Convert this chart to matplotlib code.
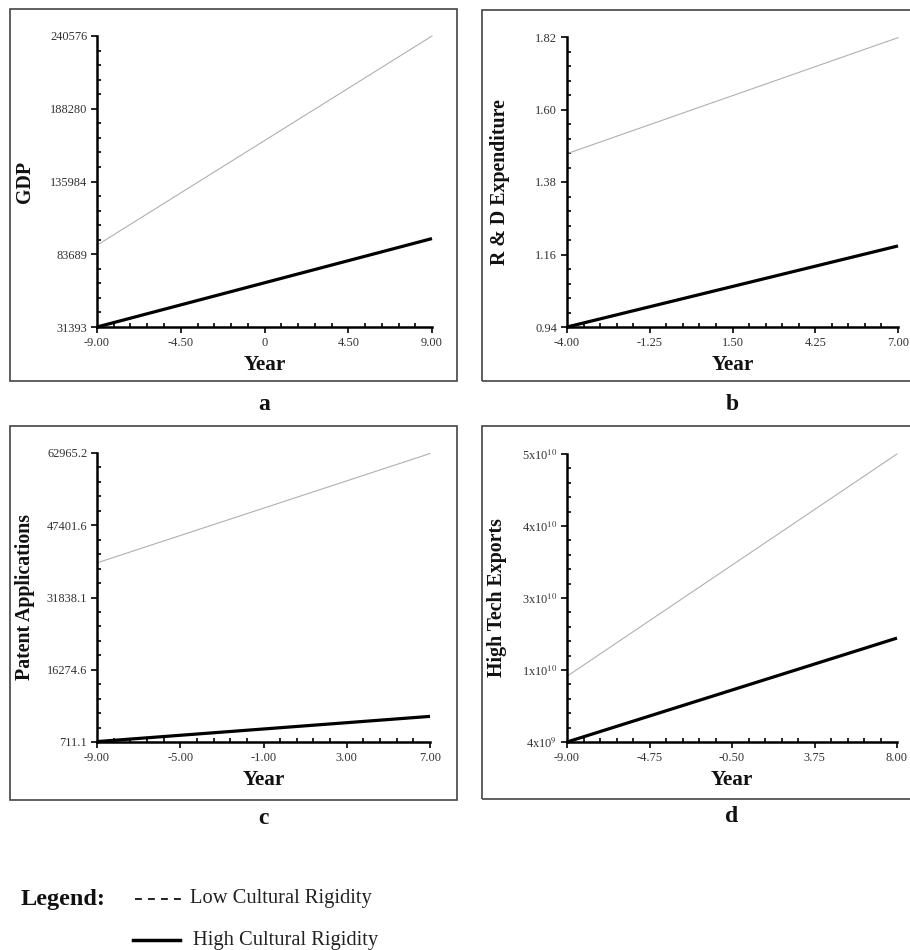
import matplotlib.pyplot as plt
import numpy as np
from matplotlib.lines import Line2D
from matplotlib.patches import Rectangle

plt.rcParams['font.family'] = ['Liberation Serif', 'DejaVu Serif']
plt.rcParams['mathtext.fontset'] = 'stix'

# panel a: GDP
gdp_years = [-9.0, 9.0]
gdp_low = [90200, 240576]
gdp_high = [31393, 94960]
gdp_xticks = ['-9.00', '-4.50', '0', '4.50', '9.00']
gdp_yticks = ['31393', '83689', '135984', '188280', '240576']

# panel b: R & D
rd_years = [-4.0, 7.0]
rd_low = [1.466, 1.818]
rd_high = [0.94, 1.186]
rd_xticks = ['-4.00', '-1.25', '1.50', '4.25', '7.00']
rd_yticks = ['0.94', '1.16', '1.38', '1.60', '1.82']

# panel c: patents
pat_years = [-9.0, 7.0]
pat_low = [39300, 62850]
pat_high = [800, 6230]
pat_xticks = ['-9.00', '-5.00', '-1.00', '3.00', '7.00']
pat_yticks = ['711.1', '16274.6', '31838.1', '47401.6', '62965.2']

# panel d: high tech exports
hte_years = [-9.0, 8.0]
hte_low = [1.45e10, 5.0e10]
hte_high = [4.0e9, 2.06e10]
hte_xticks = ['-9.00', '-4.75', '-0.50', '3.75', '8.00']
hte_yticks = ['4x10$^{9}$', '1x10$^{10}$', '3x10$^{10}$', '4x10$^{10}$', '5x10$^{10}$']

W, H = 910, 950
fig = plt.figure(figsize=(W/100, H/100), dpi=100)

def fx(px):
    return px / W

def fy(py):
    return 1 - py / H

panels = [
    # frame (l, t, r, b), axes (l, t, r, b), data...
    ((10, 9, 457, 381), (97, 36, 432, 327), gdp_years, gdp_low, gdp_high,
     (-9, 9), (31393, 240576), gdp_xticks, gdp_yticks, 'GDP', 25, 'a', 404),
    ((482, 10, 930, 381), (567, 37, 898, 327), rd_years, rd_low, rd_high,
     (-4, 7), (0.94, 1.82), rd_xticks, rd_yticks, 'R & D Expenditure', 500, 'b', 404),
    ((10, 426, 457, 800), (97, 453, 430, 742), pat_years, pat_low, pat_high,
     (-9, 7), (711.1, 62965.2), pat_xticks, pat_yticks, 'Patent Applications', 25, 'c', 818),
    ((482, 426, 930, 799), (567, 454, 897, 742), hte_years, hte_low, hte_high,
     (-9, 8), (4.0e9, 5.0e10), hte_xticks, hte_yticks, 'High Tech Exports', 497, 'd', 817),
]

for frame, box, xs, low, high, xlim, ylim, xt, yt, ylab, ylab_x, letter, letter_y in panels:
    fl, ft, fr, fb = frame
    fig.patches.append(Rectangle((fx(fl), fy(fb)), fx(fr - fl), (fb - ft) / H,
                                 transform=fig.transFigure, fill=False,
                                 edgecolor='#444444', lw=1.2))
    l, t, r, b = box
    ax = fig.add_axes([fx(l), fy(b), fx(r - l), (b - t) / H])
    ax.plot(xs, low, color='#b0b0b0', lw=0.8, clip_on=False)
    ax.plot(xs, high, color='black', lw=2.3, clip_on=False, solid_capstyle='butt')
    ax.set_xlim(xlim)
    ax.set_ylim(ylim)
    ax.set_xticks(np.linspace(xlim[0], xlim[1], 5))
    ax.set_xticklabels(xt)
    ax.set_yticks(np.linspace(ylim[0], ylim[1], 5))
    ax.set_yticklabels(yt)
    ax.set_xticks(np.linspace(xlim[0], xlim[1], 21), minor=True)
    ax.set_yticks(np.linspace(ylim[0], ylim[1], 21), minor=True)
    for s in ['top', 'right']:
        ax.spines[s].set_visible(False)
    for s in ['left', 'bottom']:
        ax.spines[s].set_linewidth(1.8)
    ax.tick_params(which='major', direction='out', length=4, width=1.2,
                   labelsize=8.9, labelcolor='#333333', pad=3)
    ax.tick_params(which='minor', direction='in', length=3, width=1.2)
    fig.text(fx(ylab_x), fy((t + b) / 2), ylab, rotation=90, ha='center', va='center',
             fontsize=14.3, fontweight='bold', color='#111111')
    fig.text(fx((l + r) / 2), fy(b + 38), 'Year', ha='center', va='center',
             fontsize=15.3, fontweight='bold', color='#111111')
    fig.text(fx((l + r) / 2), fy(letter_y), letter, ha='center', va='center',
             fontsize=17, fontweight='bold', color='#111111')

# legend
fig.text(fx(21), fy(899), 'Legend:', ha='left', va='center', fontsize=17.5,
         fontweight='bold', color='#111111')
fig.lines.append(Line2D([fx(135), fx(183)], [fy(899), fy(899)], transform=fig.transFigure,
                        color='#111111', lw=1.3, linestyle=(0, (3.8, 3.4))))
fig.text(fx(190), fy(899), 'Low Cultural Rigidity', ha='left', va='center', fontsize=14.8,
         color='#222222')
fig.lines.append(Line2D([fx(133), fx(180)], [fy(940), fy(940)], transform=fig.transFigure,
                        color='black', lw=2.5))
fig.text(fx(193), fy(941), 'High Cultural Rigidity', ha='left', va='center', fontsize=14.8,
         color='#222222')

fig.savefig('out.png', dpi=100)
